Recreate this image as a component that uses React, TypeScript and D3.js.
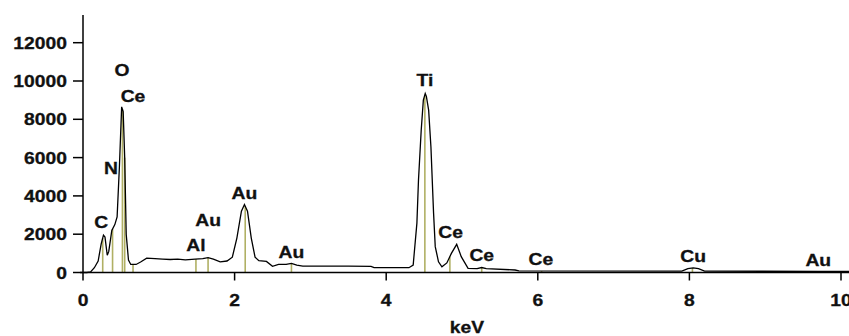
import React from "react";
import * as d3 from "d3";

// EDS spectrum: energy (keV) vs counts
const energies = [
  0.0, 0.05, 0.1, 0.15, 0.2, 0.24, 0.27, 0.29, 0.32, 0.34, 0.38, 0.42, 0.45, 0.48, 0.51, 0.53, 0.55, 0.57, 0.6, 0.63,
  0.7, 0.76, 0.84, 0.95, 1.05, 1.15, 1.25, 1.35, 1.48, 1.58, 1.65, 1.72, 1.81, 1.9, 1.97, 2.03, 2.09, 2.13, 2.17, 2.22,
  2.27, 2.32, 2.42, 2.5, 2.58, 2.68, 2.75, 2.82, 2.9, 3.5, 3.8, 3.84, 4.3, 4.356, 4.405, 4.426, 4.462, 4.49, 4.515, 4.53,
  4.56, 4.59, 4.625, 4.647, 4.69, 4.735, 4.8, 4.86, 4.93, 4.99, 5.08, 5.2, 5.26, 5.32, 5.7, 5.75, 7.9, 7.98, 8.05, 8.12,
  8.2, 9.7, 10.12,
];
const counts = [
  0, 0, 30, 250, 600, 1500, 1950, 1850, 900, 1100, 2200, 2500, 2900, 5500, 8650, 8400, 6000, 2000, 650, 420,
  420, 550, 750, 720, 700, 680, 700, 660, 700, 720, 780, 700, 560, 600, 800, 1800, 3200, 3550, 3200, 1800,
  800, 620, 580, 320, 420, 420, 480, 380, 330, 330, 320, 250, 250, 390, 2580, 4830, 7440, 9000, 9350, 9200,
  8480, 6570, 3100, 1350, 560, 300, 500, 1000, 1470, 830, 220, 200, 260, 200, 130, 80, 70, 200, 240, 200,
  70, 60, 60,
];

// Element line markers and their labels (label position given as energy / count of its centre)
const lineEnergies = [0.26, 0.39, 0.52, 0.55, 0.66, 1.49, 1.65, 2.14, 2.75, 4.51, 4.84, 5.26, 6.05, 8.04, 9.71];
const peakLabels = ["C", "N", "O", "Ce", "Al", "Au", "Au", "Au", "Ti", "Ce", "Ce", "Ce", "Cu", "Au"];
const labelEnergies = [0.24, 0.37, 0.515, 0.66, 1.49, 1.65, 2.13, 2.75, 4.51, 4.85, 5.26, 6.04, 8.05, 9.7];
const labelCounts = [2640, 5450, 10570, 9210, 1435, 2740, 4150, 1070, 10050, 2130, 910, 700, 860, 650];

const yTicks = [0, 2000, 4000, 6000, 8000, 10000, 12000];
const xTicks = [0, 2, 4, 6, 8, 10];
const xTitle = "keV";

const W = 849;
const H = 336;

export default function App() {
  const x = d3.scaleLinear().domain([0, 10]).range([83, 841]);
  const y = d3.scaleLinear().domain([0, 2000]).range([272.5, 234.2]);

  const pts: [number, number][] = energies.map((e, i) => [e, counts[i]]);
  const line = d3
    .line<[number, number]>()
    .x((d) => x(d[0]))
    .y((d) => y(d[1]))
    .curve(d3.curveLinear);

  const interp = (e: number) => {
    const i = d3.bisectLeft(energies, e);
    if (i <= 0) return counts[0];
    if (i >= energies.length) return counts[counts.length - 1];
    const e0 = energies[i - 1];
    const e1 = energies[i];
    const t = (e - e0) / (e1 - e0);
    return counts[i - 1] + t * (counts[i] - counts[i - 1]);
  };

  const font = "'Liberation Sans', Arial, sans-serif";
  const sx = 1.17;
  const Txt = (props: { x: number; y: number; anchor?: string; children: React.ReactNode }) => (
    <g transform={`translate(${props.x},${props.y}) scale(${sx},1)`}>
      <text
        textAnchor={(props.anchor as any) || "middle"}
        fontFamily={font}
        fontWeight="bold"
        fontSize={16.5}
        fill="#111"
        stroke="#111"
        strokeWidth={0.3}
      >
        {props.children}
      </text>
    </g>
  );

  return (
    <svg
      width={W}
      height={H}
      style={{ position: "absolute", left: 0, top: 0, background: "#fff" }}
    >
      {/* element line markers */}
      {lineEnergies.map((e, i) => (
        <line
          key={"m" + i}
          x1={x(e)}
          x2={x(e)}
          y1={y(0)}
          y2={y(interp(e))}
          stroke="#b0b064"
          strokeWidth={1.6}
        />
      ))}

      {/* spectrum */}
      <path d={line(pts) || ""} fill="none" stroke="#000" strokeWidth={1.3} />

      {/* axes */}
      <line x1={83} x2={83} y1={15} y2={y(0)} stroke="#000" strokeWidth={1.5} />
      <line x1={80} x2={849} y1={y(0)} y2={y(0)} stroke="#000" strokeWidth={1.5} />
      {yTicks.map((t) => (
        <g key={"y" + t}>
          <line x1={73} x2={83} y1={y(t)} y2={y(t)} stroke="#000" strokeWidth={1.5} />
          <Txt x={67} y={y(t) + 6} anchor="end">
            {t}
          </Txt>
        </g>
      ))}
      {xTicks.map((t) => (
        <g key={"x" + t}>
          <line x1={x(t)} x2={x(t)} y1={y(0)} y2={y(0) + 8} stroke="#000" strokeWidth={1.5} />
          <Txt x={x(t)} y={306}>
            {t}
          </Txt>
        </g>
      ))}
      <Txt x={467} y={333}>
        {xTitle}
      </Txt>

      {/* peak labels */}
      {peakLabels.map((l, i) => (
        <Txt key={"l" + i} x={x(labelEnergies[i])} y={y(labelCounts[i]) + 6}>
          {l}
        </Txt>
      ))}
    </svg>
  );
}
